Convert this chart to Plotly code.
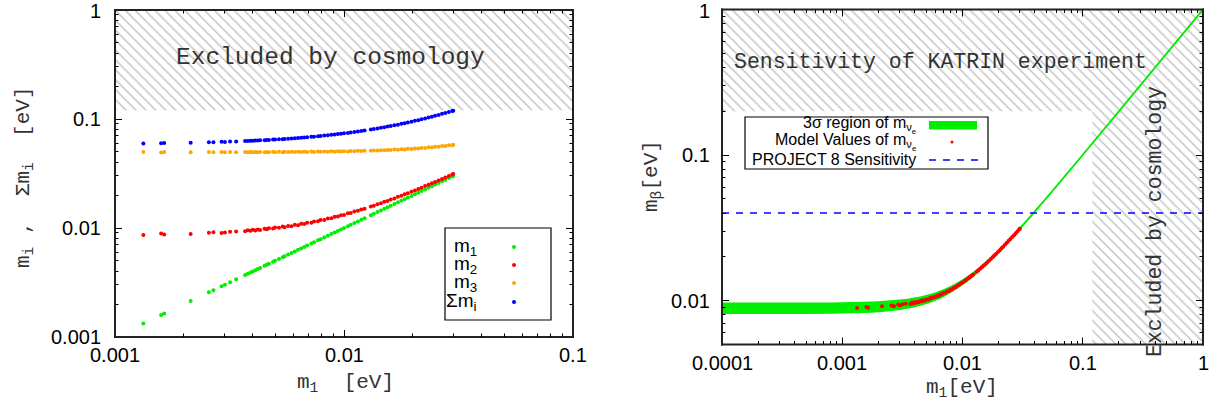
import math
import plotly.graph_objects as go

W, H = 1219, 407

# ---------------- data ----------------
# lightest neutrino mass m1 [eV] of the model points
m1 = [0.00133, 0.00159, 0.00164, 0.00214, 0.00257, 0.00269, 0.00292, 0.00302, 0.00318, 0.00338,
      0.0037, 0.0038, 0.0039, 0.0040, 0.0041, 0.0042, 0.0043, 0.0045, 0.0046, 0.0047,
      0.0049, 0.0050, 0.0052, 0.0054, 0.0055, 0.0057, 0.0059, 0.0061, 0.0063, 0.0065,
      0.0067, 0.0069, 0.0072, 0.0074, 0.0077, 0.0079, 0.0082, 0.0085, 0.0088, 0.0091,
      0.0094, 0.0097, 0.0100, 0.0104, 0.0107, 0.0111, 0.0115, 0.0119, 0.0123, 0.0131,
      0.0135, 0.0140, 0.0145, 0.0150, 0.0155, 0.0160, 0.0166, 0.0172, 0.0178, 0.0184,
      0.0190, 0.0197, 0.0204, 0.0211, 0.0218, 0.0226, 0.0234, 0.0242, 0.0250, 0.0259,
      0.0268, 0.0277, 0.0287, 0.0297, 0.0300]

m2 = [0.00862, 0.00890, 0.00872, 0.00880, 0.00905, 0.00915, 0.00902, 0.00910, 0.00925, 0.00931,
      0.00935, 0.00952, 0.00945, 0.00962, 0.00951, 0.00970, 0.00960, 0.00985, 0.00972, 0.00995,
      0.00987, 0.01010, 0.01003, 0.01031, 0.01018, 0.01045, 0.01040, 0.01070, 0.01062, 0.01093,
      0.01086, 0.01118, 0.01120, 0.01150, 0.01152, 0.01183, 0.01187, 0.01224, 0.01229, 0.01267,
      0.01272, 0.01310, 0.01318, 0.01362, 0.01372, 0.01415, 0.01436, 0.01478, 0.01500, 0.01575,
      0.01600, 0.01652, 0.01685, 0.01737, 0.01772, 0.01823, 0.01869, 0.01930, 0.01976, 0.02038,
      0.02085, 0.02156, 0.02213, 0.02284, 0.02343, 0.02423, 0.02493, 0.02573, 0.02644, 0.02733,
      0.02815, 0.02904, 0.02996, 0.03095, 0.03121]

m3 = [0.04970, 0.04940, 0.04975, 0.04945, 0.04972, 0.04942, 0.04978, 0.04945, 0.04980, 0.04948,
      0.04985, 0.04950, 0.04984, 0.04952, 0.04988, 0.04954, 0.04990, 0.04956, 0.04992, 0.04958,
      0.04995, 0.04960, 0.04998, 0.04964, 0.05001, 0.04968, 0.05005, 0.04972, 0.05010, 0.04978,
      0.05016, 0.04983, 0.05022, 0.04990, 0.05030, 0.04998, 0.05040, 0.05007, 0.05050, 0.05018,
      0.05060, 0.05029, 0.05070, 0.05043, 0.05084, 0.05057, 0.05102, 0.05074, 0.05120, 0.05106,
      0.05150, 0.05128, 0.05178, 0.05156, 0.05207, 0.05187, 0.05241, 0.05220, 0.05281, 0.05260,
      0.05323, 0.05305, 0.05375, 0.05358, 0.05430, 0.05418, 0.05497, 0.05487, 0.05567, 0.05564,
      0.05650, 0.05650, 0.05742, 0.05750, 0.05810]

sum_m = [0.05965, 0.05989, 0.06011, 0.06039, 0.06134, 0.06126, 0.06172, 0.06157, 0.06223, 0.06217,
         0.06290, 0.06282, 0.06319, 0.06314, 0.06349, 0.06344, 0.06380, 0.06391, 0.06424, 0.06423,
         0.06472, 0.06470, 0.06521, 0.06535, 0.06569, 0.06583, 0.06635, 0.06652, 0.06702, 0.06721,
         0.06772, 0.06791, 0.06862, 0.06880, 0.06952, 0.06971, 0.07047, 0.07081, 0.07159, 0.07195,
         0.07272, 0.07309, 0.07388, 0.07445, 0.07526, 0.07582, 0.07688, 0.07742, 0.07850, 0.07991,
         0.08100, 0.08180, 0.08313, 0.08393, 0.08529, 0.08610, 0.08770, 0.08870, 0.09037, 0.09138,
         0.09308, 0.09431, 0.09628, 0.09752, 0.09953, 0.10101, 0.10330, 0.10480, 0.10711, 0.10887,
         0.11145, 0.11324, 0.11608, 0.11815, 0.11931]

m_beta = [0.00890, 0.00905, 0.00895, 0.00915, 0.00928, 0.00915, 0.00940, 0.00925, 0.00945, 0.00952,
          0.00950, 0.00970, 0.00958, 0.00975, 0.00968, 0.00985, 0.00975, 0.00998, 0.00988, 0.01008,
          0.01003, 0.01022, 0.01018, 0.01043, 0.01033, 0.01058, 0.01055, 0.01080, 0.01078, 0.01103,
          0.01102, 0.01127, 0.01133, 0.01158, 0.01166, 0.01190, 0.01200, 0.01230, 0.01242, 0.01272,
          0.01286, 0.01315, 0.01331, 0.01367, 0.01386, 0.01420, 0.01447, 0.01484, 0.01512, 0.01582,
          0.01611, 0.01657, 0.01696, 0.01743, 0.01782, 0.01830, 0.01878, 0.01936, 0.01985, 0.02044,
          0.02093, 0.02162, 0.02221, 0.02290, 0.02350, 0.02429, 0.02499, 0.02578, 0.02649, 0.02738,
          0.02819, 0.02909, 0.02999, 0.03101, 0.03125]

# 3 sigma band of m_beta
band_m1 = [0.0001, 0.0003, 0.001, 0.002, 0.003, 0.004, 0.005, 0.006, 0.007, 0.008,
           0.01, 0.012, 0.015, 0.02, 0.03, 0.05, 0.1, 0.2, 0.5, 1.0]
band_lo = [0.00819, 0.00819, 0.00825, 0.00843, 0.00872, 0.00911, 0.00959, 0.01015, 0.01077, 0.01145,
           0.01292, 0.01453, 0.01709, 0.02161, 0.03110, 0.05067, 0.10033, 0.20017, 0.50007, 1.00003]
band_hi = [0.00959, 0.00960, 0.00964, 0.00980, 0.01005, 0.01039, 0.01082, 0.01131, 0.01187, 0.01249,
           0.01386, 0.01536, 0.01780, 0.02218, 0.03150, 0.05091, 0.10046, 0.20023, 0.50009, 1.00005]

# limits
COSMO_BOUND = 0.12      # eV
KATRIN_BOUND = 0.2      # eV
P8_SENS = 0.04          # eV

# axis ranges and tick labels
L_X = [0.001, 0.1]
L_Y = [0.001, 1.0]
R_X = [0.0001, 1.0]
R_Y = [0.005, 1.0]

L_XTICKS = [0.001, 0.01, 0.1]
L_XTEXT = ["0.001", "0.01", "0.1"]
L_YTICKS = [0.001, 0.01, 0.1, 1]
L_YTEXT = ["0.001", "0.01", "0.1", "1"]
R_XTICKS = [0.0001, 0.001, 0.01, 0.1, 1]
R_XTEXT = ["0.0001", "0.001", "0.01", "0.1", "1"]
R_YTICKS = [0.01, 0.1, 1]
R_YTEXT = ["0.01", "0.1", "1"]

# ---------------- figure ----------------
# panel boxes in pixels: (left, right, top, bottom)
LBOX = (115, 573, 10, 337)
RBOX = (722, 1203, 9.5, 344.5)


def fx(p):
    return p / W


def fy(p):
    return 1 - p / H


GREEN = "#00ee00"
RED = "#ff0000"
ORANGE = "#ffa500"
BLUE = "#0000ff"
HATCH = dict(shape="\\", size=7, solidity=0.22, fgcolor="#8a8a8a", bgcolor="white")
MONO = "Liberation Mono, Courier New, monospace"
SANS = "Liberation Sans, Arial, Helvetica, sans-serif"

fig = go.Figure()

# --- left panel ---
fig.add_trace(go.Scatter(
    x=[L_X[0], L_X[1], L_X[1], L_X[0], L_X[0]],
    y=[COSMO_BOUND, COSMO_BOUND, L_Y[1], L_Y[1], COSMO_BOUND],
    fill="toself", mode="lines", line=dict(width=0), fillcolor="rgba(0,0,0,0)",
    fillpattern=HATCH, hoverinfo="skip", showlegend=False, xaxis="x", yaxis="y"))

for ys, col in [(m1, GREEN), (m2, RED), (m3, ORANGE), (sum_m, BLUE)]:
    fig.add_trace(go.Scatter(x=m1, y=ys, mode="markers",
                             marker=dict(size=4, color=col, line=dict(width=0)),
                             showlegend=False, xaxis="x", yaxis="y"))

# --- right panel ---
fig.add_trace(go.Scatter(
    x=[R_X[0], COSMO_BOUND, COSMO_BOUND, R_X[1], R_X[1], R_X[0], R_X[0]],
    y=[KATRIN_BOUND, KATRIN_BOUND, R_Y[0], R_Y[0], R_Y[1], R_Y[1], KATRIN_BOUND],
    fill="toself", mode="lines", line=dict(width=0), fillcolor="rgba(0,0,0,0)",
    fillpattern=HATCH, hoverinfo="skip", showlegend=False, xaxis="x2", yaxis="y2"))

fig.add_trace(go.Scatter(x=band_m1, y=band_lo, mode="lines",
                         line=dict(color=GREEN, width=1.5, shape="spline"),
                         showlegend=False, xaxis="x2", yaxis="y2"))
fig.add_trace(go.Scatter(x=band_m1, y=band_hi, mode="lines", fill="tonexty", fillcolor=GREEN,
                         line=dict(color=GREEN, width=1.5, shape="spline"),
                         showlegend=False, xaxis="x2", yaxis="y2"))
fig.add_trace(go.Scatter(x=R_X, y=[P8_SENS, P8_SENS], mode="lines",
                         line=dict(color=BLUE, width=1.5, dash="7px,7px"),
                         showlegend=False, xaxis="x2", yaxis="y2"))
fig.add_trace(go.Scatter(x=m1, y=m_beta, mode="markers",
                         marker=dict(size=4, color=RED, line=dict(width=0)),
                         showlegend=False, xaxis="x2", yaxis="y2"))


def axis(box, rng, anchor, horizontal):
    if horizontal:
        dom = [fx(box[0]), fx(box[1])]
    else:
        dom = [fy(box[3]), fy(box[2])]
    return dict(domain=dom, type="log", range=[math.log10(rng[0]), math.log10(rng[1])],
                anchor=anchor, showline=False, ticks="", showticklabels=False, automargin=False,
                showgrid=False, zeroline=False, fixedrange=True)


fig.update_layout(
    width=W, height=H, margin=dict(l=0, r=0, t=0, b=0, autoexpand=False),
    paper_bgcolor="white", plot_bgcolor="rgba(0,0,0,0)", showlegend=False,
    xaxis=axis(LBOX, L_X, "y", True),
    yaxis=axis(LBOX, L_Y, "x", False),
    xaxis2=axis(RBOX, R_X, "y2", True),
    yaxis2=axis(RBOX, R_Y, "x2", False),
)

ann = []
shapes = []


def text(x, y, s, font, size, color="#222", xanchor="center", angle=0):
    ann.append(dict(x=fx(x), y=fy(y), xref="paper", yref="paper", text=s, showarrow=False,
                    xanchor=xanchor, yanchor="middle", textangle=angle,
                    font=dict(family=font, size=size, color=color)))


def prect(x0, y0, x1, y1, color="black"):
    # filled rectangle in pixel coordinates (top-left origin)
    shapes.append(dict(type="rect", xref="paper", yref="paper",
                       x0=fx(min(x0, x1)), x1=fx(max(x0, x1)),
                       y0=fy(max(y0, y1)), y1=fy(min(y0, y1)),
                       fillcolor=color, line=dict(width=0), layer="above"))


def frac(v, rng):
    return (math.log10(v) - math.log10(rng[0])) / (math.log10(rng[1]) - math.log10(rng[0]))


def tick_values(rng):
    lo, hi = math.floor(math.log10(rng[0]) + 1e-9), math.ceil(math.log10(rng[1]) - 1e-9)
    out = []
    for e in range(lo, hi + 1):
        for k in range(1, 10):
            v = k * 10 ** e
            if rng[0] * (1 - 1e-9) <= v <= rng[1] * (1 + 1e-9):
                out.append((v, k == 1))
    return out


def panel_frame(box, xr, yr, xtv, xtt, ytv, ytt, ylab_gap):
    l, r, t, b = box
    lw = 2
    # frame
    prect(l - lw / 2, t - lw / 2, r + lw / 2, t + lw / 2, "#222")
    prect(l - lw / 2, b - lw / 2, r + lw / 2, b + lw / 2, "#222")
    prect(l - lw / 2, t - lw / 2, l + lw / 2, b + lw / 2, "#222")
    prect(r - lw / 2, t - lw / 2, r + lw / 2, b + lw / 2, "#222")
    # ticks (mirrored on both sides)
    for v, major in tick_values(xr):
        f = frac(v, xr)
        if f <= 0.001 or f >= 0.999:
            continue
        L = 7 if major else 3.5
        xp = math.floor(l + f * (r - l))
        prect(xp, b, xp + 1, b - L)
        prect(xp, t, xp + 1, t + L)
    for v, major in tick_values(yr):
        f = frac(v, yr)
        if f <= 0.001 or f >= 0.999:
            continue
        L = 7 if major else 3.5
        yp = math.floor(b - f * (b - t))
        prect(l, yp, l + L, yp + 1)
        prect(r, yp, r - L, yp + 1)
    # tick labels
    for v, s in zip(xtv, xtt):
        xp = l + frac(v, xr) * (r - l)
        text(xp, b + 18, s, SANS, 20, "black")
    for v, s in zip(ytv, ytt):
        yp = b - frac(v, yr) * (b - t)
        text(l - ylab_gap, max(yp, 11), s, SANS, 20, "black", xanchor="right")


panel_frame(LBOX, L_X, L_Y, L_XTICKS, L_XTEXT, L_YTICKS, L_YTEXT, 12)
panel_frame(RBOX, R_X, R_Y, R_XTICKS, R_XTEXT, R_YTICKS, R_YTEXT, 10)

NB = "\u00a0"
# axis titles
text(24, 177, "m<sub>i</sub>" + NB + "," + NB * 2 + "Σm<sub>i</sub>" + NB * 2 + "[eV]", MONO, 21, "#333", angle=-90)
text(345, 383, "m<sub>1</sub>" + NB * 2 + "[eV]", MONO, 21, "#333")
text(652, 176, "m<sub>β</sub>[eV]", MONO, 21, "#333", angle=-90)
text(962, 388, "m<sub>1</sub>[eV]", MONO, 21, "#333")

# region labels
text(330, 57, "Excluded by cosmology", MONO, 24.5, "#333")
text(940, 62, "Sensitivity of KATRIN experiment", MONO, 21.5, "#333")
text(1155, 222, "Excluded by cosmology", MONO, 21.5, "#333", angle=-90)

# left legend
shapes.append(dict(type="rect", xref="paper", yref="paper", x0=fx(445), x1=fx(551), y0=fy(320), y1=fy(228),
                   line=dict(color="black", width=1.2), fillcolor="white", layer="above"))
leg_rows = [(247, "m<sub>1</sub>", GREEN), (265, "m<sub>2</sub>", RED),
            (283, "m<sub>3</sub>", ORANGE), (302, "Σm<sub>i</sub>", BLUE)]
for yy, lab, col in leg_rows:
    text(479, yy, lab, SANS, 19, "black", xanchor="right")
    shapes.append(dict(type="circle", xref="paper", yref="paper", xsizemode="pixel", ysizemode="pixel",
                       xanchor=fx(514), yanchor=fy(yy), x0=-2, x1=2, y0=-2, y1=2,
                       fillcolor=col, line=dict(width=0), layer="above"))

# right legend
shapes.append(dict(type="rect", xref="paper", yref="paper", x0=fx(745), x1=fx(988), y0=fy(169), y1=fy(117),
                   line=dict(color="black", width=1.2), fillcolor="white", layer="above"))
text(918, 125, "3σ region of m<sub>ν<sub>e</sub></sub>", SANS, 16, "black", xanchor="right")
text(918, 142, "Model Values of m<sub>ν<sub>e</sub></sub>", SANS, 16, "black", xanchor="right")
text(918, 160, "PROJECT 8 Sensitivity", SANS, 16, "black", xanchor="right")
prect(929, 121, 977, 129.5, GREEN)
shapes.append(dict(type="circle", xref="paper", yref="paper", xsizemode="pixel", ysizemode="pixel",
                   xanchor=fx(952), yanchor=fy(142), x0=-1.5, x1=1.5, y0=-1.5, y1=1.5,
                   fillcolor=RED, line=dict(width=0), layer="above"))
shapes.append(dict(type="line", xref="paper", yref="paper", x0=fx(929), x1=fx(978), y0=fy(160), y1=fy(160),
                   line=dict(color=BLUE, width=1.5, dash="7px,7px"), layer="above"))

fig.update_layout(annotations=ann, shapes=shapes)
fig.write_html(
    "out.html",
    config={"displayModeBar": False},
    post_script="document.body.style.margin='0px';document.body.style.padding='0px';"
                "document.body.style.overflow='hidden';",
)
